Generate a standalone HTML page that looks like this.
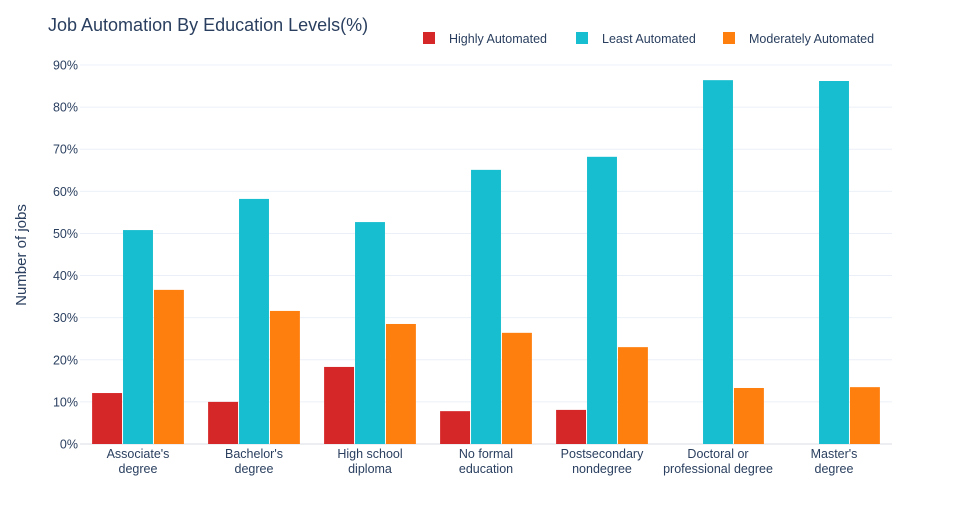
<!DOCTYPE html>
<html><head><meta charset="utf-8"><style>
body{margin:0;background:#fff;}
svg{display:block;font-family:"Liberation Sans","DejaVu Sans",sans-serif;}
</style></head><body>
<svg id="chart" width="971" height="525"></svg>
<script>
const categories=[["Associate's","degree"],["Bachelor's","degree"],["High school","diploma"],["No formal","education"],["Postsecondary","nondegree"],["Doctoral or","professional degree"],["Master's","degree"]];
const highly=[12.1,10.0,18.3,7.8,8.1,0,0];
const least=[50.8,58.2,52.7,65.1,68.2,86.4,86.2];
const moderate=[36.6,31.6,28.5,26.4,23.0,13.3,13.5];
const yTicks=[0,10,20,30,40,50,60,70,80,90];
const seriesNames=["Highly Automated","Least Automated","Moderately Automated"];
const colors=["#d62728","#17becf","#ff7f0e"];

const NS="http://www.w3.org/2000/svg";
const svg=document.getElementById('chart');
const L=80,R=892,T=65,B=444;
const y=v=>B-(v/90)*(B-T);
const bw=(R-L)/categories.length;
const xc=i=>L+bw*(i+0.5);
function mk(tag,attrs,parent){const e=document.createElementNS(NS,tag);for(const k in attrs)e.setAttribute(k,attrs[k]);(parent||svg).appendChild(e);return e;}

const title=mk('text',{x:48,y:31,'font-size':18,fill:'#2a3f5f'});
title.textContent='Job Automation By Education Levels(%)';



yTicks.forEach(t=>{
  const g=mk('line',{x1:L,x2:R,y1:y(t),y2:y(t),stroke:t===0?'#d8dde6':'#ebf0f8','stroke-width':1});
  
  
  const l=mk('text',{x:L-2,y:y(t)+4.5,'text-anchor':'end','font-size':12.5,fill:'#2a3f5f'});
  l.textContent=t+'%';
  
  
});
const yt=mk('text',{x:26,y:255,'text-anchor':'middle','font-size':15,fill:'#2a3f5f',transform:'rotate(-90 26 255)'});
yt.textContent='Number of jobs';



const series=[highly,least,moderate];
const barW=bw*0.8/3;
categories.forEach((c,i)=>{
  series.forEach((s,j)=>{
    const x0=xc(i)-bw*0.4+j*barW;
    const r=mk('rect',{x:x0+0.5,y:y(s[i]),width:barW-1,height:B-y(s[i]),fill:colors[j]});
    
    
  });
  c.forEach((line,k)=>{
    const t=mk('text',{x:xc(i),y:458+k*15,'text-anchor':'middle','font-size':12.5,fill:'#2a3f5f'});
    t.textContent=line;
    
    
  });
});

const legX=[423,576,723];
seriesNames.forEach((n,j)=>{
  const g=mk('g',{});
  
  
  mk('rect',{x:legX[j],y:32,width:12,height:12,fill:colors[j]},g);
  const t=mk('text',{x:legX[j]+26,y:43,'font-size':12.5,fill:'#2a3f5f'},g);
  t.textContent=n;
});
</script>
</body></html>
